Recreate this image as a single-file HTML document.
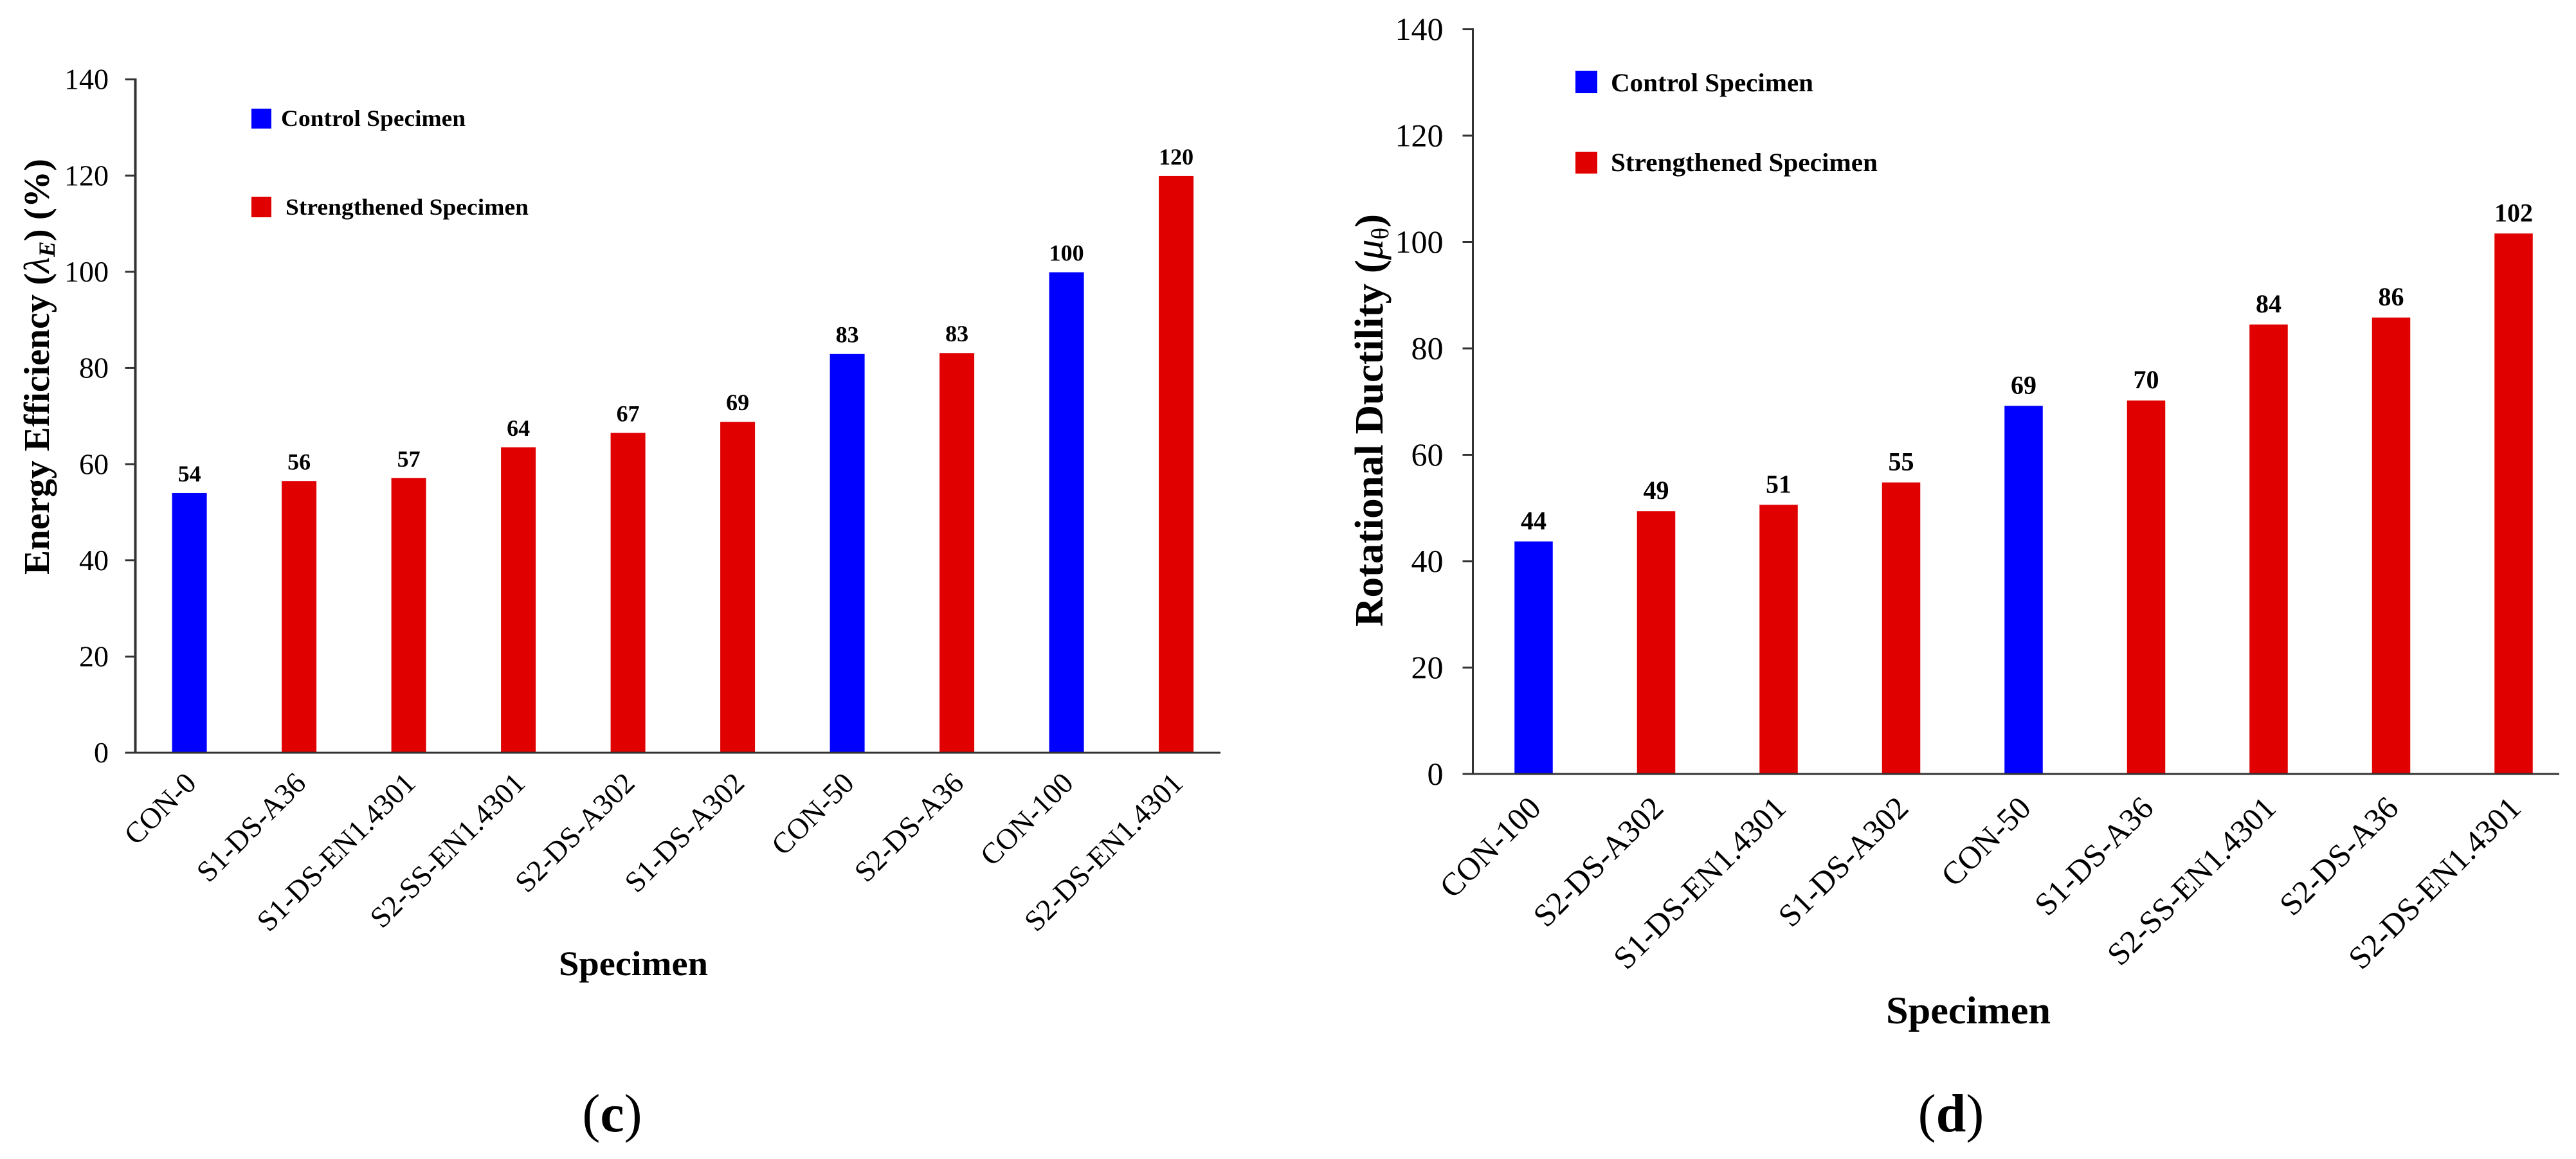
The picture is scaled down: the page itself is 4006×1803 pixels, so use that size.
<!DOCTYPE html>
<html lang="en">
<head>
<meta charset="utf-8">
<title>Energy Efficiency and Rotational Ductility by Specimen</title>
<style>
html,body{margin:0;padding:0;background:#fff;}
svg{display:block;}
text{font-family:"Liberation Serif",serif;fill:#000;}
.b{font-weight:bold;}
</style>
</head>
<body>
<svg id="fig" xmlns="http://www.w3.org/2000/svg" width="4006" height="1803" viewBox="0 0 4006 1803">
  <rect width="4006" height="1803" fill="#fff"/>
  <g id="chart-c"></g>
  <g id="chart-d"></g>

  <text class="b" transform="translate(76,894) rotate(-90)" font-size="56" textLength="647" lengthAdjust="spacingAndGlyphs">Energy Efficiency (<tspan font-style="italic" font-weight="normal">λ</tspan><tspan font-style="italic" font-size="36" dy="9">E</tspan><tspan dy="-9">) (%)</tspan></text>
  <text class="b" x="985" y="1517" font-size="54" text-anchor="middle" textLength="232" lengthAdjust="spacingAndGlyphs">Specimen</text>
  <rect x="391" y="169" width="31" height="31" fill="#0000ff"/>
  <text class="b" x="437" y="196" font-size="36" textLength="287" lengthAdjust="spacingAndGlyphs">Control Specimen</text>
  <rect x="391" y="306" width="31" height="32" fill="#e00000"/>
  <text class="b" x="444" y="334" font-size="36" textLength="378" lengthAdjust="spacingAndGlyphs">Strengthened Specimen</text>
  <text x="952" y="1760" font-size="84" text-anchor="middle">(<tspan class="b">c</tspan>)</text>

  <text class="b" transform="translate(2150,975) rotate(-90)" font-size="62" textLength="642" lengthAdjust="spacingAndGlyphs">Rotational Ductility (<tspan font-style="italic" font-weight="normal">μ</tspan><tspan font-size="38" font-weight="normal" dy="9">θ</tspan><tspan dy="-9">)</tspan></text>
  <text class="b" x="3061" y="1592" font-size="60" text-anchor="middle" textLength="256" lengthAdjust="spacingAndGlyphs">Specimen</text>
  <rect x="2450" y="110" width="34" height="35" fill="#0000ff"/>
  <text class="b" x="2505" y="142" font-size="40" textLength="315" lengthAdjust="spacingAndGlyphs">Control Specimen</text>
  <rect x="2450" y="236" width="34" height="34" fill="#e00000"/>
  <text class="b" x="2505" y="266" font-size="40" textLength="415" lengthAdjust="spacingAndGlyphs">Strengthened Specimen</text>
  <text x="3034" y="1760" font-size="84" text-anchor="middle">(<tspan class="b">d</tspan>)</text>
</svg>
<script>
const NS = 'http://www.w3.org/2000/svg';

const yTicks = [0, 20, 40, 60, 80, 100, 120, 140];

const energyCategories = ['CON-0', 'S1-DS-A36', 'S1-DS-EN1.4301', 'S2-SS-EN1.4301', 'S2-DS-A302', 'S1-DS-A302', 'CON-50', 'S2-DS-A36', 'CON-100', 'S2-DS-EN1.4301'];
const energyValues = [54.0, 56.5, 57.1, 63.5, 66.5, 68.8, 82.9, 83.1, 99.9, 119.9];
const energyPrinted = ['54', '56', '57', '64', '67', '69', '83', '83', '100', '120'];

const ductilityCategories = ['CON-100', 'S2-DS-A302', 'S1-DS-EN1.4301', 'S1-DS-A302', 'CON-50', 'S1-DS-A36', 'S2-SS-EN1.4301', 'S2-DS-A36', 'S2-DS-EN1.4301'];
const ductilityValues = [43.7, 49.4, 50.6, 54.8, 69.2, 70.2, 84.5, 85.8, 101.6];
const ductilityPrinted = ['44', '49', '51', '55', '69', '70', '84', '86', '102'];

function add(parent, tag, attrs) {
  const el = document.createElementNS(NS, tag);
  for (const k in attrs) el.setAttribute(k, attrs[k]);
  parent.appendChild(el);
  return el;
}

function drawChart(parent, cfg, categories, values, printed) {
  const xScale = i => cfg.firstCenter + cfg.pitch * i;
  const yScale = v => cfg.y0 - (v / 140) * (cfg.y0 - cfg.y140);

  yTicks.forEach(t => {
    const tick = add(parent, 'line', {x1: cfg.axisX - cfg.tickLen, x2: cfg.axisX, y1: yScale(t), y2: yScale(t), stroke: '#333', 'stroke-width': 3});
    
    
    const lab = add(parent, 'text', {x: cfg.tickLabelX, y: yScale(t) + cfg.tickSize * 0.33, 'font-size': cfg.tickSize, 'text-anchor': 'end', fill: '#111'});
    
    
    lab.textContent = t;
  });

  categories.forEach((c, i) => {
    const cx = xScale(i);
    const top = yScale(values[i]);
    const bar = add(parent, 'rect', {x: cx - cfg.barW / 2, y: top, width: cfg.barW, height: cfg.y0 - top, fill: c.indexOf('CON') === 0 ? '#0000ff' : '#e00000'});
    
    
    const val = add(parent, 'text', {x: cx, y: top - cfg.valGap, 'font-size': cfg.valSize, 'font-weight': 'bold', 'text-anchor': 'middle'});
    
    
    val.textContent = printed[i];
    const cat = add(parent, 'text', {transform: 'translate(' + (cx + cfg.catDx) + ',' + cfg.catY + ') rotate(-45)', 'font-size': cfg.catSize, 'text-anchor': 'end', fill: '#111'});
    
    
    cat.textContent = c;
  });

  const yAxis = add(parent, 'line', {x1: cfg.axisX, x2: cfg.axisX, y1: cfg.y140 - 1.5, y2: cfg.y0 + 1.5, stroke: '#333', 'stroke-width': cfg.axisW});
  
  
  const xAxis = add(parent, 'line', {x1: cfg.axisX - cfg.tickLen, x2: cfg.axisEnd, y1: cfg.y0, y2: cfg.y0, stroke: '#333', 'stroke-width': 3});
  
  
}

drawChart(document.getElementById('chart-c'), {
  axisX: 210.5, axisEnd: 1898, axisW: 4, tickLen: 16, tickLabelX: 169, tickSize: 46,
  y0: 1171, y140: 123.5, firstCenter: 294.6, pitch: 170.5, barW: 54,
  valGap: 18, valSize: 36, catDx: 13, catY: 1221, catSize: 46
}, energyCategories, energyValues, energyPrinted);

drawChart(document.getElementById('chart-d'), {
  axisX: 2290.5, axisEnd: 3980, axisW: 3, tickLen: 16, tickLabelX: 2244.5, tickSize: 50,
  y0: 1204, y140: 45.5, firstCenter: 2385, pitch: 190.5, barW: 59.5,
  valGap: 19, valSize: 40, catDx: 14, catY: 1260, catSize: 50
}, ductilityCategories, ductilityValues, ductilityPrinted);
</script>
</body>
</html>
